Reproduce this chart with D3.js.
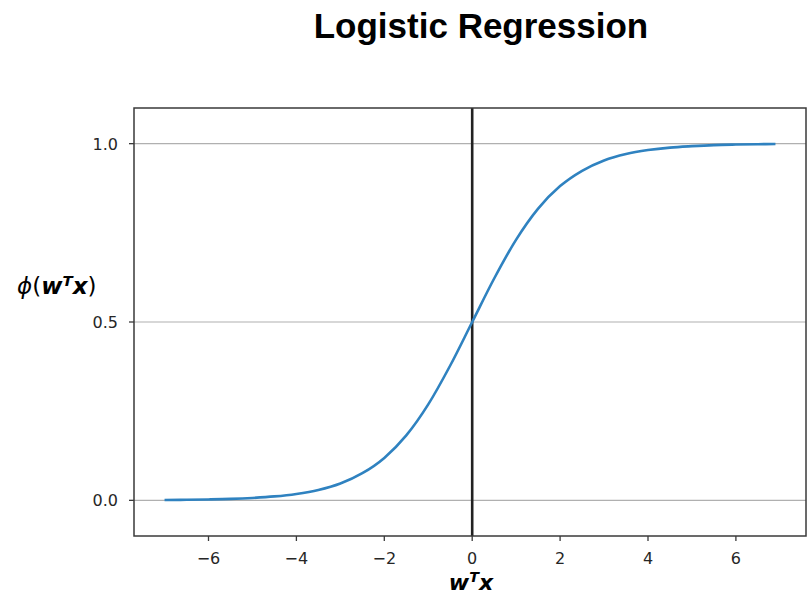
<!DOCTYPE html>
<html>
<head>
<meta charset="utf-8">
<script src="https://cdn.jsdelivr.net/npm/d3@7"></script>
<style>
  body { margin: 0; background: #fff; }
  .tick-label { font-family: "DejaVu Sans", sans-serif; font-size: 16px; fill: #262626; }
  .grid { stroke: #b0b0b0; stroke-width: 1.2; }
  .frame { fill: none; stroke: #3a3a3a; stroke-width: 1.5; }
</style>
</head>
<body>
<script>
// Sigmoid curve (x in w^T x, y in phi)
var xs = [-7, -6.5, -6, -5.5, -5, -4.5, -4, -3.5, -3, -2.5, -2, -1.5, -1, -0.5, 0,
          0.5, 1, 1.5, 2, 2.5, 3, 3.5, 4, 4.5, 5, 5.5, 6, 6.5, 6.9];
var ys = [0.0009, 0.0015, 0.0025, 0.004, 0.0067, 0.011, 0.018, 0.029, 0.047, 0.076, 0.119, 0.182, 0.269, 0.378, 0.5,
          0.622, 0.731, 0.818, 0.881, 0.924, 0.953, 0.971, 0.982, 0.989, 0.993, 0.996, 0.9975, 0.9985, 0.999];
var xTicks = [-6, -4, -2, 0, 2, 4, 6];
var yTicks = [0.0, 0.5, 1.0];
var xLim = [-7.695, 7.595];
var yLim = [-0.1, 1.1];

var w = 811, h = 599;
var plotL = 134, plotR = 806, plotT = 108, plotB = 536;

var svg = d3.select("body").append("svg")
    .attr("width", w)
    .attr("height", h);

var x = d3.scaleLinear().domain(xLim).range([plotL, plotR]);
var y = d3.scaleLinear().domain(yLim).range([plotB, plotT]);

// Title
svg.append("text")
    .attr("x", 481)
    .attr("y", 38)
    .attr("text-anchor", "middle")
    .style("font-family", "'Liberation Sans', Arial, sans-serif")
    .style("font-weight", "bold")
    .style("font-size", "35px")
    .attr("fill", "#000")
    .text("Logistic Regression");

// horizontal grid
svg.selectAll("line.grid").data(yTicks).enter().append("line")
    .attr("class", "grid")
    .attr("x1", plotL).attr("x2", plotR)
    .attr("y1", d => y(d)).attr("y2", d => y(d));

// vertical line at 0
svg.append("line")
    .attr("x1", x(0)).attr("x2", x(0))
    .attr("y1", plotT).attr("y2", plotB)
    .attr("stroke", "#222")
    .attr("stroke-width", 2.6);

// curve
var line = d3.line()
    .x((d, i) => x(xs[i]))
    .y((d, i) => y(ys[i]))
    .curve(d3.curveMonotoneX);

svg.append("path")
    .datum(xs)
    .attr("d", line)
    .attr("fill", "none")
    .attr("stroke", "#2f82c0")
    .attr("stroke-width", 2.6);

// frame
svg.append("rect")
    .attr("class", "frame")
    .attr("x", plotL).attr("y", plotT)
    .attr("width", plotR - plotL).attr("height", plotB - plotT);

// x ticks
var fmtX = d => d < 0 ? "\u2212" + Math.abs(d) : String(d);
svg.selectAll("line.xt").data(xTicks).enter().append("line")
    .attr("class", "xt")
    .attr("x1", d => x(d)).attr("x2", d => x(d))
    .attr("y1", plotB).attr("y2", plotB + 5)
    .attr("stroke", "#3a3a3a").attr("stroke-width", 1.3);
svg.selectAll("text.xt").data(xTicks).enter().append("text")
    .attr("class", "tick-label xt")
    .attr("x", d => x(d))
    .attr("y", 564)
    .attr("text-anchor", "middle")
    .text(fmtX);

// y ticks
svg.selectAll("line.yt").data(yTicks).enter().append("line")
    .attr("class", "yt")
    .attr("x1", plotL - 5).attr("x2", plotL)
    .attr("y1", d => y(d)).attr("y2", d => y(d))
    .attr("stroke", "#3a3a3a").attr("stroke-width", 1.3);
svg.selectAll("text.yt").data(yTicks).enter().append("text")
    .attr("class", "tick-label yt")
    .attr("x", plotL - 16)
    .attr("y", d => y(d) + 6)
    .attr("text-anchor", "end")
    .text(d => d.toFixed(1));

// axis labels
function mathLabel(g) {
    g.append("tspan").style("font-weight", "bold").style("font-style", "italic").text("w");
    g.append("tspan").style("font-weight", "bold").style("font-style", "italic")
        .style("font-size", "0.65em").attr("dy", "-0.55em").text("T");
    g.append("tspan").style("font-weight", "bold").style("font-style", "italic")
        .attr("dy", "0.36em").text("x");
}

var yl = svg.append("text")
    .attr("x", 17)
    .attr("y", 294)
    .style("font-family", "'DejaVu Sans', sans-serif")
    .style("font-size", "23px")
    .attr("fill", "#000");
yl.append("tspan").style("font-style", "italic").text("\u03d5");
yl.append("tspan").text("(");
mathLabel(yl);
yl.append("tspan").text(")");

var xl = svg.append("text")
    .attr("x", 471)
    .attr("y", 590)
    .attr("text-anchor", "middle")
    .style("font-family", "'DejaVu Sans', sans-serif")
    .style("font-size", "22px")
    .attr("fill", "#000");
mathLabel(xl);
</script>
</body>
</html>
